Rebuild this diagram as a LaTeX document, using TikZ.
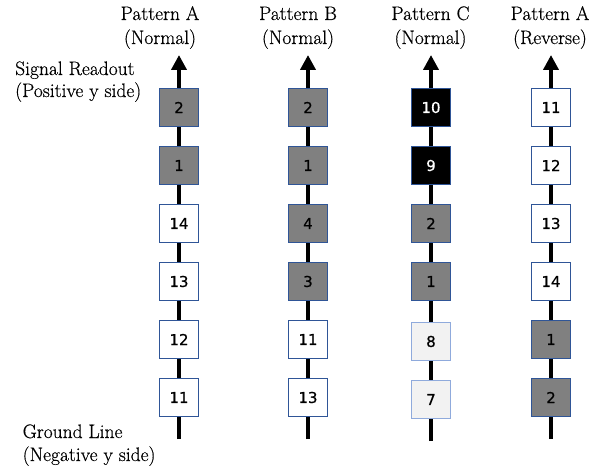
\documentclass[tikz,border=0pt]{standalone}
\usepackage{fontspec}
\newfontfamily\digitfont[FakeBold=0.6]{DejaVu Sans}
\newfontfamily\labelfont[FakeBold=0.5]{Latin Modern Roman}
\usetikzlibrary{arrows.meta}
\definecolor{boxborder}{RGB}{47,85,151}
\definecolor{lightborder}{RGB}{143,170,220}
\definecolor{grayfill}{RGB}{128,128,128}
\definecolor{lightfill}{RGB}{242,242,242}
\tikzset{
  cell/.style={draw=boxborder, line width=1pt, minimum width=39pt, minimum height=38.5pt, inner sep=0pt, font=\digitfont\fontsize{15}{15}\selectfont},
  whitecell/.style={cell, fill=white, text=black},
  graycell/.style={cell, fill=grayfill, text=black},
  blackcell/.style={cell, fill=black, text=white},
  lightcell/.style={cell, draw=lightborder, fill=lightfill, text=black},
  axis/.style={line width=4.3pt, -{Triangle[width=15pt,length=15pt]}},
  label/.style={font=\labelfont\fontsize{19.5}{24}\selectfont, inner sep=0pt},
}
\begin{document}
\begin{tikzpicture}[x=1pt,y=-1pt]
\useasboundingbox (0,0) rectangle (616,470);
% columns
\foreach \c/\x/\b in {A/179/439, B/308/439, C/431/441, D/551/439}{
  \coordinate (top\c) at (\x,55);
  \coordinate (bot\c) at (\x,\b);
  \draw[axis] (bot\c) -- (top\c);
}
% column A
\node[graycell]  (a1) at (179,107.5) {2};
\node[graycell]  (a2) at (179,165.5) {1};
\node[whitecell] (a3) at (179,223.5) {14};
\node[whitecell] (a4) at (179,281.5) {13};
\node[whitecell] (a5) at (179,339.5) {12};
\node[whitecell] (a6) at (179,397.5) {11};
% column B
\node[graycell]  (b1) at (308,107.5) {2};
\node[graycell]  (b2) at (308,165.5) {1};
\node[graycell]  (b3) at (308,223.5) {4};
\node[graycell]  (b4) at (308,281.5) {3};
\node[whitecell] (b5) at (308,339.5) {11};
\node[whitecell] (b6) at (308,397.5) {13};
% column C
\node[blackcell] (c1) at (431,107.5) {10};
\node[blackcell] (c2) at (431,165.5) {9};
\node[graycell]  (c3) at (431,223.5) {2};
\node[graycell]  (c4) at (431,281.5) {1};
\node[lightcell] (c5) at (431,341.5) {8};
\node[lightcell] (c6) at (431,399.5) {7};
% column D
\node[whitecell] (d1) at (551,107.5) {11};
\node[whitecell] (d2) at (551,165.5) {12};
\node[whitecell] (d3) at (551,223.5) {13};
\node[whitecell] (d4) at (551,281.5) {14};
\node[graycell]  (d5) at (551,339.5) {1};
\node[graycell]  (d6) at (551,397.5) {2};
% titles
\node[label, anchor=base] (tA1) at (160,20) {Pattern A};
\node[label, anchor=base] (tA2) at (160,44) {(Normal)};
\node[label, anchor=base] (tB1) at (298,20) {Pattern B};
\node[label, anchor=base] (tB2) at (298,44) {(Normal)};
\node[label, anchor=base] (tC1) at (430.5,20) {Pattern C};
\node[label, anchor=base] (tC2) at (430.5,44) {(Normal)};
\node[label, anchor=base] (tD1) at (550,20) {Pattern A};
\node[label, anchor=base] (tD2) at (550,44) {(Reverse)};
% side labels
\node[label, anchor=base west] (sig1) at (15,75) {Signal Readout};
\node[label, anchor=base west] (sig2) at (15,97) {(Positive y side)};
\node[label, anchor=base west] (gnd1) at (22.5,438) {Ground Line};
\node[label, anchor=base west] (gnd2) at (22.5,461) {(Negative y side)};
\end{tikzpicture}
\end{document}
